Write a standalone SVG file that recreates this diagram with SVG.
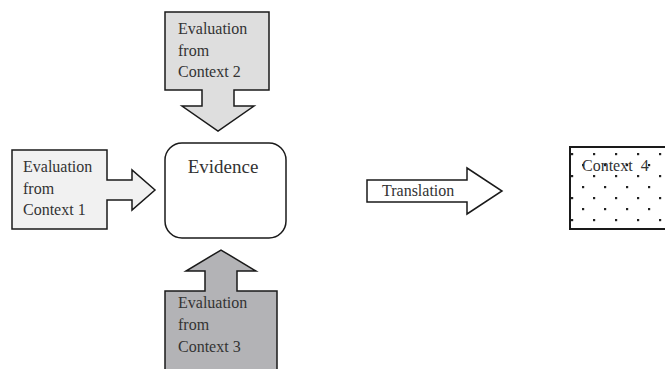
<svg xmlns="http://www.w3.org/2000/svg" width="665" height="369" viewBox="0 0 665 369">
<style>
.sh{stroke:#1a1a1a;stroke-width:1.5;stroke-linejoin:miter}
.t{font-family:"Liberation Serif","Times New Roman",serif;font-size:16px;fill:#333}
.d{fill:#222}
</style>
<defs>
<pattern id="dots" x="572" y="154" width="22" height="22" patternUnits="userSpaceOnUse">
<rect class="d" x="-1" y="-1" width="2.2" height="2.2"/>
<rect class="d" x="10" y="10" width="2.2" height="2.2"/>
<rect class="d" x="21" y="-1" width="2.2" height="2.2"/>
<rect class="d" x="-1" y="21" width="2.2" height="2.2"/>
<rect class="d" x="21" y="21" width="2.2" height="2.2"/>
</pattern>
</defs>
<rect width="665" height="369" fill="#fff"/>
<g id="connectors">
<polygon id="translation-arrow" class="sh" fill="#fff" points="367,180 467,180 467,168 502,191 467,214 467,202 367,202"/>
<text class="t" x="382" y="196">Translation</text>
</g>
<g id="evidence">
<rect class="sh" fill="#fff" x="165" y="143" width="121" height="95" rx="17" ry="17"/>
<text class="t" x="223" y="173" text-anchor="middle" style="font-size:19px">Evidence</text>
</g>
<g id="context2">
<polygon class="sh" fill="#dedede" points="165,12 269,12 269,90 234,90 234,106 254,106 218,131 182,106 202,106 202,90 165,90"/>
<text class="t" x="178" y="34">Evaluation</text>
<text class="t" x="178" y="56">from</text>
<text class="t" x="178" y="77">Context 2</text>
</g>
<g id="context1">
<polygon class="sh" fill="#f1f1f1" points="12,150 107,150 107,180 132,180 132,170 155,190 132,210 132,200 107,200 107,229 12,229"/>
<text class="t" x="23" y="172">Evaluation</text>
<text class="t" x="23" y="194">from</text>
<text class="t" x="23" y="215">Context 1</text>
</g>
<g id="context3">
<polygon class="sh" fill="#b3b3b6" points="165,291 205,291 205,271 186,271 221,250 256,271 237,271 237,291 277,291 277,372 165,372"/>
<text class="t" x="178" y="308">Evaluation</text>
<text class="t" x="178" y="330">from</text>
<text class="t" x="178" y="352">Context 3</text>
</g>
<g id="context4">
<rect x="570" y="147" width="100" height="82" fill="url(#dots)" stroke="#1a1a1a" stroke-width="2"/>
<text class="t" x="582" y="171" style="word-spacing:4px">Context 4</text>
</g>
</svg>
